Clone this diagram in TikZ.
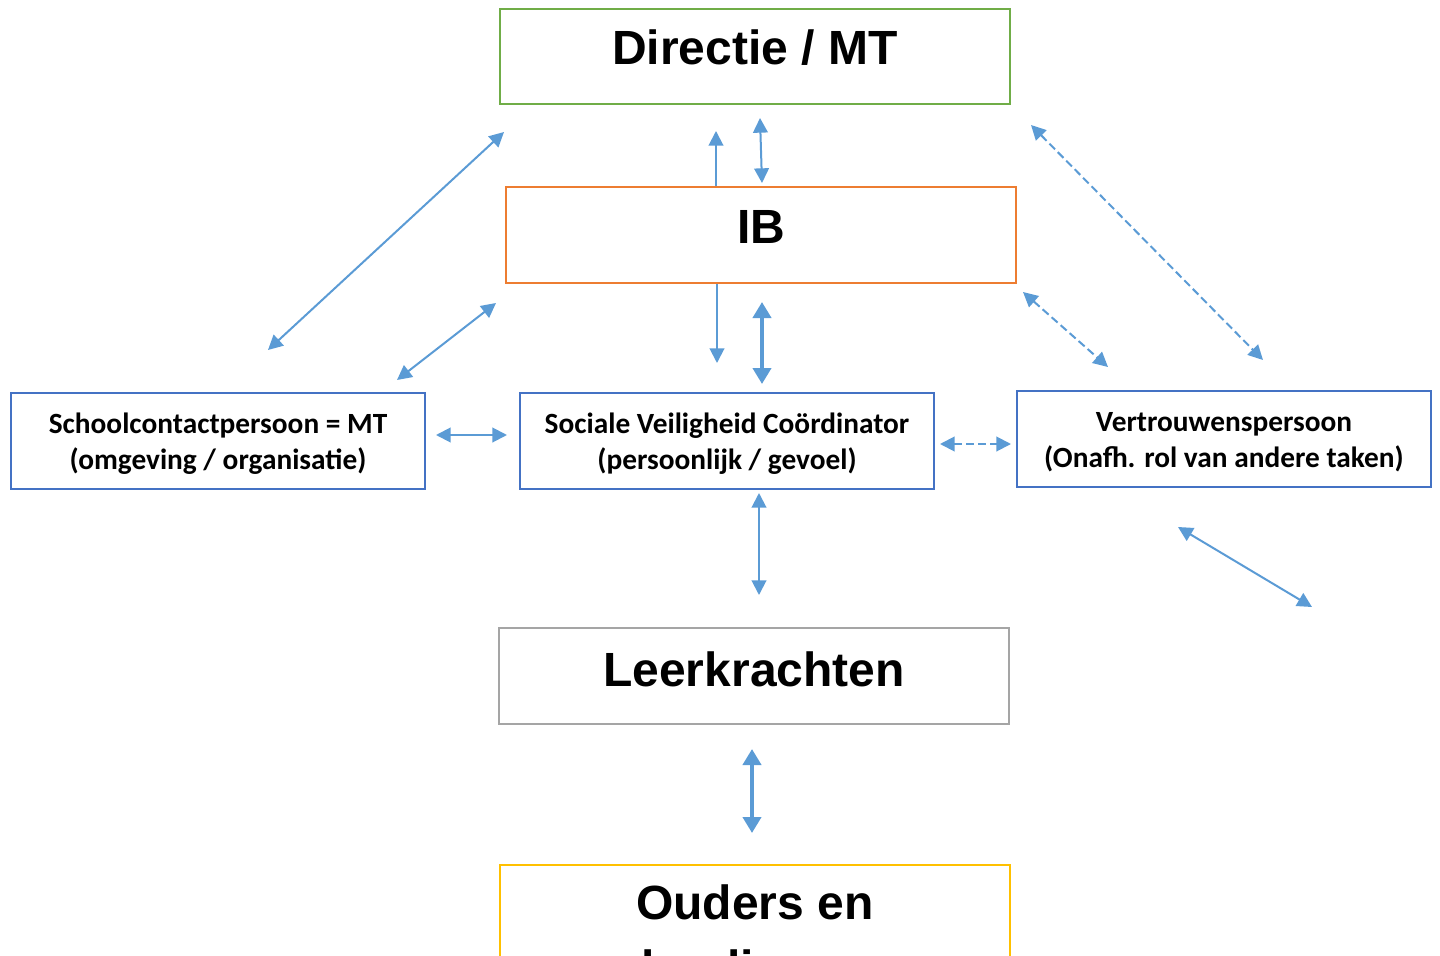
\documentclass[tikz,border=0pt]{standalone}
\usepackage{fontspec}
\usetikzlibrary{arrows.meta}
\newfontfamily\bigfont{Liberation Sans}
\newfontfamily\smallfont{Carlito}
\definecolor{boxgreen}{HTML}{70AD47}
\definecolor{boxorange}{HTML}{ED7D31}
\definecolor{boxblue}{HTML}{4472C4}
\definecolor{boxgray}{HTML}{A5A5A5}
\definecolor{boxyellow}{HTML}{FFC000}
\definecolor{arrowblue}{HTML}{5B9BD5}
\tikzset{
  bigbox/.style={draw, line width=1.5pt, inner sep=0pt, minimum width=382.5pt, minimum height=72pt,
    font=\bigfont\bfseries\fontsize{36}{41.4}\selectfont, text height=42pt, text depth=30pt},
  bigtext/.style={font=\bigfont\bfseries\fontsize{36}{41.4}\selectfont, inner sep=0pt, anchor=base},
  smallbox/.style={draw=boxblue, line width=1.5pt, inner sep=0pt, minimum width=310.5pt, minimum height=72pt},
  smalltext/.style={inner sep=0pt, align=center, font=\smallfont\bfseries\fontsize{22}{27}\selectfont},
  conn/.style={draw=arrowblue, line width=1.5pt, {Triangle[length=11pt,width=11pt]}-{Triangle[length=11pt,width=11pt]}},
  oneway/.style={draw=arrowblue, line width=1.5pt, -{Triangle[length=11pt,width=11pt]}},
  thickconn/.style={draw=arrowblue, line width=3pt, {Triangle[length=12pt,width=13.5pt]}-{Triangle[length=12pt,width=13.5pt]}},
  dashconn/.style={conn, dash pattern=on 6pt off 3pt},
}
\begin{document}
\begin{tikzpicture}[x=0.75pt,y=-0.75pt]
\useasboundingbox (0,0) rectangle (1440,956);
\clip (0,0) rectangle (1440,956);
% boxes
\node[bigbox, draw=boxgreen, minimum height=71.25pt, text depth=29.25pt] (dir) at (755,56.5) {Directie / MT};
\node[bigbox, draw=boxorange] (ib) at (761,235) {IB};
\node[bigbox, draw=boxgray, text height=43.5pt, text depth=28.5pt] (leer) at (754,676) {Leerkrachten};
\node[draw=boxyellow, line width=1.5pt, inner sep=0pt, minimum width=382.5pt, minimum height=150pt, anchor=north] (oud) at (755,864) {};
\node[bigtext] (oudtxt) at (755,919) {Ouders en};
\node[bigtext] (oudtxt2) at (755,984) {leerlingen};
\node[smallbox] (scp) at (218,441) {};
\node[smalltext] (scptxt) at (218,444) {Schoolcontactpersoon = MT\\(omgeving / organisatie)};
\node[smallbox] (svc) at (727,441) {};
\node[smalltext] (svctxt) at (727,444) {Sociale Veiligheid Coördinator\\(persoonlijk / gevoel)};
\node[smallbox] (vtp) at (1224,439) {};
\node[smalltext] (vtptxt) at (1224,442) {Vertrouwenspersoon\\(Onafh. rol van andere taken)};
% connector end points
\coordinate (a1t) at (716,131);
\coordinate (a2a) at (760,118); \coordinate (a2b) at (762,183);
\coordinate (a3a) at (504,132); \coordinate (a3b) at (268,350);
\coordinate (a4a) at (496,303); \coordinate (a4b) at (397,380);
\coordinate (a5t) at (717,363);
\coordinate (a6a) at (762,302); \coordinate (a6b) at (762,384);
\coordinate (a7a) at (436,435); \coordinate (a7b) at (507,435);
\coordinate (a8a) at (940,444); \coordinate (a8b) at (1011,444);
\coordinate (a9a) at (1023,292); \coordinate (a9b) at (1108,367);
\coordinate (a10a) at (1031,125); \coordinate (a10b) at (1263,360);
\coordinate (a11a) at (1178,527); \coordinate (a11b) at (1312,607);
\coordinate (a12a) at (759,493); \coordinate (a12b) at (759,595);
\coordinate (a13a) at (752,749); \coordinate (a13b) at (752,833);
% connectors
\draw[oneway] (ib.north -| a1t) -- (a1t);
\draw[conn] (a2a) -- (a2b);
\draw[conn] (a3a) -- (a3b);
\draw[conn] (a4a) -- (a4b);
\draw[oneway] (ib.south -| a5t) -- (a5t);
\draw[thickconn] (a6a) -- (a6b);
\draw[conn] (a7a) -- (a7b);
\draw[dashconn] (a8a) -- (a8b);
\draw[dashconn] (a9a) -- (a9b);
\draw[dashconn] (a10a) -- (a10b);
\draw[conn] (a11a) -- (a11b);
\draw[conn] (a12a) -- (a12b);
\draw[thickconn] (a13a) -- (a13b);
\end{tikzpicture}
\end{document}
